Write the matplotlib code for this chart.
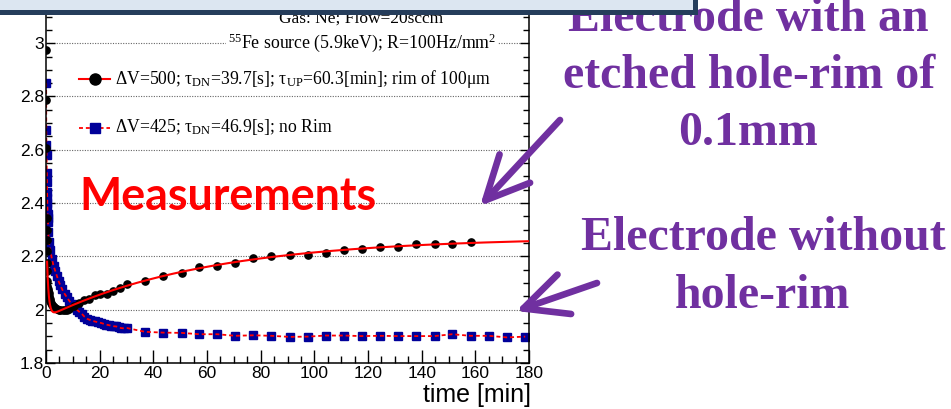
import numpy as np
import matplotlib
matplotlib.use("Agg")
import matplotlib.pyplot as plt
from matplotlib.lines import Line2D
from matplotlib.patches import Rectangle
from matplotlib.ticker import MultipleLocator, FormatStrFormatter

plt.rcParams['mathtext.fontset'] = 'custom'
plt.rcParams['mathtext.rm'] = 'Liberation Serif'
plt.rcParams['mathtext.it'] = 'Liberation Serif:italic'
plt.rcParams['mathtext.bf'] = 'Liberation Serif:bold'

# ---- measured gain vs time, electrode with 100 um rim (dV = 500 V) ----
rim_time = [0.05, 0.1, 0.15, 0.22, 0.26, 0.3, 0.34, 0.37, 0.4, 0.45, 0.55, 0.65,
            0.8, 1.0, 1.2, 1.4, 1.6, 1.9, 2.2, 2.6, 2.9, 3.4, 4.0, 4.7, 5.4,
            6.2, 7.0, 7.7, 8.4, 10.3, 12.2, 14.1, 16.1, 18.1, 20.3, 22.6,
            25.0, 27.6, 30.2, 36.9, 43.7, 50.5, 57.1, 63.8, 70.5, 77.2, 84.0,
            90.8, 97.6, 104.2, 110.9, 117.6, 124.3, 131.2, 138.0, 144.8,
            151.4, 158.2]
rim_gain = [2.974, 2.787, 2.606, 2.343, 2.30, 2.26, 2.22, 2.175, 2.144, 2.107,
            2.09, 2.078, 2.070, 2.064, 2.052, 2.042, 2.033, 2.025, 2.018,
            2.012, 2.009, 2.005, 2.002, 2.000, 1.998, 1.997, 1.997, 1.999,
            2.001, 2.012, 2.025, 2.035, 2.041, 2.054, 2.059, 2.059, 2.072,
            2.081, 2.096, 2.107, 2.125, 2.137, 2.161, 2.165, 2.175, 2.194,
            2.200, 2.206, 2.204, 2.214, 2.223, 2.226, 2.234, 2.234, 2.245,
            2.245, 2.245, 2.254]

# ---- measured gain vs time, electrode without rim (dV = 425 V) ----
norim_time = [0.05, 0.1, 0.15, 0.2, 0.3, 0.35, 0.4, 0.45, 0.5, 0.55, 0.6,
              0.65, 0.75, 0.85, 1.0, 1.6, 2.2, 2.8, 3.5, 4.1, 4.7, 5.3, 6.0,
              6.9, 7.8, 8.7, 9.7, 10.6, 11.5, 12.4, 13.4, 14.3, 15.3, 16.3,
              17.2, 18.1, 19.3, 20.6, 21.5, 22.5, 23.4, 24.3, 25.2, 26.2,
              27.1, 28.0, 29.1, 30.3, 36.9, 43.7, 50.5, 57.1, 63.8, 70.5,
              77.2, 84.0, 90.8, 97.6, 104.2, 110.9, 117.6, 124.3, 131.2,
              138.0, 144.8, 151.4, 158.2, 165.0, 171.8, 178.6]
norim_gain = [2.85, 2.674, 2.618, 2.58, 2.512, 2.48, 2.44, 2.42, 2.40, 2.38,
              2.36, 2.345, 2.33, 2.29, 2.255, 2.225, 2.19, 2.165, 2.144,
              2.125, 2.107, 2.092, 2.077, 2.06, 2.046, 2.033, 2.021, 2.01,
              2.0, 1.992, 1.984, 1.974, 1.966, 1.962, 1.958, 1.956, 1.953,
              1.95, 1.947, 1.944, 1.942, 1.94, 1.938, 1.937, 1.934, 1.931,
              1.930, 1.931, 1.917, 1.914, 1.913, 1.908, 1.908, 1.902, 1.904,
              1.902, 1.898, 1.899, 1.903, 1.903, 1.901, 1.902, 1.901, 1.901,
              1.901, 1.908, 1.902, 1.902, 1.896, 1.899]

# ---- charging-up fit of the rimmed electrode ----
tau_dn_s = 39.7          # fast drop time constant [s]
tau_up_min = 60.3        # slow rise time constant [min]
fit_offset = 1.9715
fit_amp_dn = 0.378
fit_amp_up = 0.3007
fit_t_start, fit_t_end = 0.4, 180.0

x_ticks = [0, 20, 40, 60, 80, 100, 120, 140, 160, 180]
y_ticks = [1.8, 2.0, 2.2, 2.4, 2.6, 2.8, 3.0]

W, H = 951, 409
fig = plt.figure(figsize=(W / 100, H / 100), dpi=100)
fig.patch.set_facecolor('white')


def fx(px):
    return px / W


def fy(py):
    return 1 - py / H


ax = fig.add_axes([fx(46), fy(363), 483 / W, 351.8 / H])
ax.set_xlim(0, 180)
ax.set_ylim(1.8, 3.12)

blue = '#000099'
purple = '#7030a0'

# data and fits
ax.plot(norim_time, norim_gain, ls='none', marker='s', ms=5.3, mfc=blue,
        mec=blue, zorder=2)
ax.plot(norim_time, norim_gain, color='red', lw=1.3, ls=(0, (2.2, 1.6)),
        zorder=2.5)
ax.plot(rim_time, rim_gain, ls='none', marker='o', ms=5.2, mfc='black',
        mec='black', zorder=3)
t_fit = np.linspace(fit_t_start, fit_t_end, 800)
g_fit = (fit_offset + fit_amp_dn * np.exp(-t_fit / (tau_dn_s / 60.0))
         + fit_amp_up * (1 - np.exp(-t_fit / tau_up_min)))
ax.plot(t_fit, g_fit, color='red', lw=1.5, zorder=4)

# axes styling
ax.set_xticks(x_ticks)
ax.set_yticks(y_ticks)
ax.xaxis.set_minor_locator(MultipleLocator(5))
ax.yaxis.set_minor_locator(MultipleLocator(0.05))
ax.yaxis.set_major_formatter(FormatStrFormatter('%g'))
ax.tick_params(axis='both', which='both', direction='in', right=True,
               top=False, width=1.0, colors='black')
ax.tick_params(axis='x', which='major', length=9.5, pad=2)
ax.tick_params(axis='x', which='minor', length=5)
ax.tick_params(axis='y', which='major', length=6.5, pad=1.5)
ax.tick_params(axis='y', which='minor', length=4.5)
for lab in ax.get_xticklabels() + ax.get_yticklabels():
    lab.set_fontfamily('Liberation Sans')
    lab.set_fontsize(12.5)
for s in ax.spines.values():
    s.set_linewidth(1.1)
ax.yaxis.grid(True, which='major', ls=(0, (1, 1.3)), color='0.4', lw=0.8)
ax.set_axisbelow(True)

fig.text(fx(531), fy(395), 'time [min]', ha='right', va='center',
         fontsize=18, family='Liberation Sans')

# run conditions and legend
serif = 'Liberation Serif'
fig.text(fx(361), fy(23), 'Gas: Ne; Flow=20sccm', ha='center',
         va='baseline', fontsize=12.5, family=serif)
fig.text(fx(362), fy(48), r'$^{55}$Fe source (5.9keV); R=100Hz/mm$^{2}$',
         ha='center', va='baseline', fontsize=12.8, family=serif,
         bbox=dict(facecolor='white', edgecolor='none', pad=1.5))

fig.add_artist(Line2D([fx(79), fx(110)], [fy(79), fy(79)], color='red',
                      lw=1.5, marker=None))
fig.add_artist(Line2D([fx(95)], [fy(79)], ls='none', marker='o', ms=8,
                      mfc='black', mec='black'))
fig.text(fx(115), fy(83.5),
         r'ΔV=500; τ$_{\mathrm{DN}}$=39.7[s]; τ$_{\mathrm{UP}}$=60.3[min]; rim of 100μm',
         ha='left', va='baseline', fontsize=12.7, family=serif)

fig.add_artist(Line2D([fx(79), fx(110)], [fy(128), fy(128)], color='red',
                      lw=1.3, ls=(0, (2.2, 1.6))))
fig.add_artist(Line2D([fx(95)], [fy(128)], ls='none', marker='s', ms=7.5,
                      mfc=blue, mec=blue))
fig.text(fx(115), fy(132), r'ΔV=425; τ$_{\mathrm{DN}}$=46.9[s]; no Rim',
         ha='left', va='baseline', fontsize=12.7, family=serif)

# slide annotations
fig.text(fx(79), fy(210), 'Measurements', ha='left', va='baseline',
         fontsize=32.2, family='Lato', weight='bold', color='red')

for txt, cx, by in [('Electrode with an', 748, 31),
                    ('etched hole-rim of', 749, 88),
                    ('0.1mm', 748, 145),
                    ('Electrode without', 763, 250),
                    ('hole-rim', 763, 308)]:
    fig.text(fx(cx), fy(by), txt, ha='center', va='baseline', fontsize=34.5,
             family=serif, weight='bold', color=purple)

for (x0, y0), (x1, y1) in [((560, 120), (480, 206)), ((597, 283), (516, 311))]:
    ax.annotate('', xy=(x1, H - y1), xycoords='figure pixels',
                xytext=(x0, H - y0), textcoords='figure pixels',
                arrowprops=dict(arrowstyle='->,head_length=1.25,head_width=0.6',
                                color=purple, lw=4.8, mutation_scale=25,
                                shrinkA=0, shrinkB=0),
                annotation_clip=False, zorder=6)

# title bar at the top edge
fig.add_artist(Rectangle((-10, H - 14.5), 708, 40, transform=None,
                         facecolor='#253d5b', edgecolor='none', zorder=10))
fig.add_artist(Rectangle((-10, H - 9.5), 703, 40, transform=None,
                         facecolor='#dce6f1', edgecolor='none', zorder=11))

fig.savefig('out.png', dpi=100)
